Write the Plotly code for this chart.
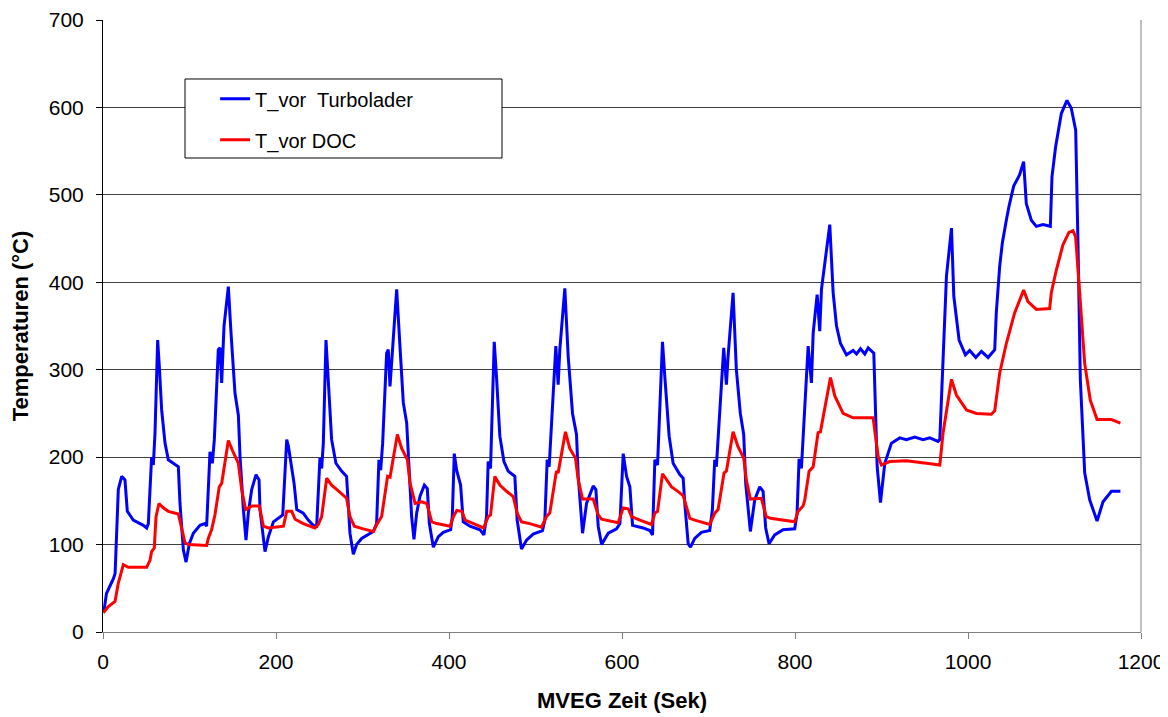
import plotly.graph_objects as go

# ---- data ----
t_turbo = [
    1, 4, 12, 14, 17.7, 21.6, 25.4, 28.1, 35, 46.6,
    50.5, 52.4, 56.2, 58.2, 60.1, 63.2, 65.1, 67.8, 71.7, 75.5,
    81.3, 87.1, 89, 92.9, 96, 99.8, 104.4, 112.1, 117.9, 119.8,
    123.7, 126.4, 128.7, 133.3, 135.3, 137.2, 139.9, 144.9, 148, 152.6,
    156.5, 158.4, 162.3, 165.3, 168, 171.9, 176.9, 180.4, 181.5, 187.3,
    191.2, 197, 207.8, 212.4, 214.4, 218.2, 220.9, 224, 231.5, 237.3,
    243.1, 247, 250.8, 252.8, 254.7, 257.8, 260.4, 264.3, 269.3, 275.8,
    281.6, 285.5, 289.4, 293.2, 299, 306.7, 312.5, 316.3, 319, 321,
    323.3, 327.9, 329.8, 331.8, 333.7, 339.5, 343.3, 347.2, 351.1, 354.1,
    356.8, 359.5, 362.6, 366.4, 371.5, 374.9, 377.3, 381.9, 387.7, 393.4,
    401.9, 403.8, 406.1, 408.8, 413.4, 416.5, 424.2, 435.8, 440.3, 443.4,
    445.3, 448, 452.3, 454.9, 458.8, 463.5, 468.4, 476.1, 478.8, 483.8,
    489.6, 497.3, 508.1, 510.8, 513.5, 515.8, 518.5, 523.5, 526.2, 528.1,
    533.9, 537.8, 542.8, 547.4, 549.4, 554.4, 559, 566.7, 569.8, 572.5,
    576.4, 584.1, 593.7, 597.6, 601.4, 605.3, 609.1, 612.2, 624.5, 632.2,
    635.3, 638, 641.1, 646.8, 649.5, 654.5, 659.1, 666.8, 670.7, 672.6,
    676.5, 679.2, 684.1, 691.8, 701.4, 704.5, 707.2, 709.1, 712.2, 717.6,
    720.7, 722.6, 728.4, 732.2, 736.8, 740.7, 743, 748.4, 753.4, 759.2,
    763.1, 766.1, 770, 776.5, 786.2, 799.7, 802.4, 804.7, 807.4, 811.3,
    815.2, 819, 821, 825.6, 828.6, 830.6, 835.6, 840.2, 844.1, 848,
    852.6, 859.5, 867.2, 871.1, 875.7, 880.7, 884.6, 891.1, 895, 898.8,
    903.8, 911.5, 921.1, 928.8, 938.4, 948.1, 955.8, 965.4, 967.4, 970.5,
    975.1, 980.9, 983.6, 989.7, 997, 1002, 1009, 1015.5, 1023.2, 1030.9,
    1032.7, 1036.6, 1039.7, 1044.3, 1047.4, 1052.8, 1059.7, 1064.3, 1067.4, 1073.2,
    1079, 1086.7, 1095.2, 1097.1, 1101.3, 1107.9, 1114.4, 1119.4, 1124.5, 1127.2,
    1129.9, 1134.9, 1140.7, 1149.2, 1156.1, 1165.8, 1176.2,
]
T_turbo = [
    23, 44, 61, 67, 163, 178, 174, 138, 128, 122,
    119, 124, 200, 191, 227, 334, 304, 254, 216, 197,
    193, 189, 147, 94, 80, 101, 113, 122, 124, 121,
    206, 193, 220, 323, 325, 285, 350, 395, 342, 273,
    248, 201, 140, 105, 136, 163, 180, 174, 140, 92,
    109, 126, 134, 220, 212, 185, 170, 140, 136, 128,
    122, 121, 199, 187, 216, 334, 288, 220, 193, 184,
    178, 113, 89, 100, 107, 112, 115, 124, 197, 185,
    216, 319, 323, 281, 311, 392, 327, 262, 239, 189,
    132, 106, 136, 155, 168, 164, 124, 97, 109, 114,
    117, 132, 204, 185, 168, 126, 121, 117, 111, 132,
    195, 187, 332, 292, 224, 195, 184, 178, 128, 95,
    105, 112, 116, 128, 197, 189, 239, 327, 283, 323,
    393, 315, 250, 226, 178, 113, 147, 167, 163, 121,
    100, 113, 118, 124, 204, 178, 166, 122, 119, 116,
    111, 197, 191, 332, 292, 224, 193, 180, 176, 147,
    101, 97, 107, 114, 116, 140, 197, 189, 239, 325,
    283, 315, 388, 300, 250, 226, 170, 115, 151, 166,
    161, 119, 101, 111, 117, 118, 136, 198, 187, 258,
    327, 285, 342, 386, 344, 392, 430, 466, 388, 350,
    330, 317, 322, 318, 324, 318, 325, 319, 189, 148,
    193, 216, 222, 220, 223, 220, 222, 218, 220, 304,
    407, 462, 384, 334, 317, 322, 314, 321, 314, 323,
    365, 418, 445, 471, 487, 510, 523, 538, 490, 471,
    464, 466, 464, 521, 555, 593, 608, 599, 574, 441,
    288, 182, 151, 127, 149, 161, 161,
]

t_doc = [
    0.4, 6.2, 13.9, 17.7, 23.5, 29.3, 50.5, 54.3, 56.2, 59.3,
    61.3, 64.7, 69.7, 75.5, 87.1, 94.8, 98.7, 119.8, 121.7, 125.5,
    129.4, 134.4, 137.2, 144.9, 149.9, 156.5, 160.3, 164.9, 171.9, 180.8,
    185.4, 191.2, 208.6, 212.4, 218.2, 222.1, 231.5, 245, 248.9, 252.8,
    258.6, 264.3, 270.1, 281.6, 285.5, 290.5, 300.9, 312.5, 317.1, 322.1,
    329, 331.8, 340.3, 345.3, 351.9, 355, 360.8, 368.5, 374.3, 380.1,
    385.9, 401.3, 405.1, 409, 414.8, 418.7, 428.3, 439.9, 445.3, 448,
    453, 458.8, 466.5, 474.2, 478.8, 483.8, 493.4, 506.9, 512.7, 516.5,
    524.2, 526.2, 534.6, 539.6, 546.2, 549.4, 554.4, 566.7, 572.5, 576.4,
    595.6, 599.5, 601.4, 607.2, 611, 620.7, 634.1, 638, 641.1, 646.8,
    651.5, 657.3, 663, 670.7, 678.4, 684.1, 701.4, 707.2, 711.1, 718,
    720.7, 728.4, 734.1, 740.7, 743.7, 748.4, 761, 766.8, 771.8, 799.7,
    803.5, 809.3, 811.3, 816.3, 821, 826.7, 829.4, 841, 846, 855.6,
    867.2, 890.3, 896.1, 899.9, 909.5, 928.8, 951.9, 967.4, 971.2, 980.9,
    986.6, 998.2, 1009.7, 1027, 1030.9, 1036.6, 1044.3, 1053.9, 1064.3, 1069.3,
    1079, 1094.4, 1096.3, 1102.1, 1109.8, 1116.7, 1121.4, 1124.4, 1129.1, 1134.9,
    1141.4, 1149.2, 1156.1, 1165.8, 1176.2,
]
T_doc = [
    22, 29, 35, 56, 77, 74, 74, 82, 92, 96,
    132, 147, 142, 138, 135, 102, 100, 99, 107, 117,
    134, 166, 170, 219, 207, 193, 163, 140, 144, 144,
    121, 119, 121, 138, 138, 129, 124, 119, 123, 132,
    176, 168, 163, 153, 132, 121, 118, 115, 124, 132,
    178, 177, 226, 210, 197, 170, 147, 149, 147, 126,
    124, 121, 132, 139, 138, 128, 124, 119, 132, 134,
    178, 168, 161, 155, 136, 126, 124, 120, 132, 136,
    184, 182, 229, 210, 199, 174, 152, 152, 134, 129,
    125, 136, 142, 141, 132, 128, 123, 136, 138, 181,
    174, 166, 162, 156, 130, 128, 123, 136, 140, 182,
    184, 229, 212, 199, 174, 152, 153, 132, 130, 126,
    138, 144, 151, 184, 189, 228, 229, 291, 270, 250,
    245, 245, 201, 191, 195, 196, 193, 191, 228, 289,
    271, 254, 250, 249, 253, 296, 330, 365, 391, 378,
    369, 370, 388, 414, 443, 457, 459, 452, 388, 307,
    265, 243, 243, 243, 239,
]

series_names = ["T_vor\u00a0 Turbolader", "T_vor DOC"]
x_ticks = [0, 200, 400, 600, 800, 1000, 1200]
y_ticks = [0, 100, 200, 300, 400, 500, 600, 700]

FONT = "Liberation Sans, Arial, sans-serif"

fig = go.Figure()
fig.add_trace(go.Scatter(x=t_turbo, y=T_turbo, mode="lines", name=series_names[0],
                         legendgroup="a", line=dict(color="#0000ff", width=3)))
fig.add_trace(go.Scatter(x=t_doc, y=T_doc, mode="lines", name=series_names[1],
                         legendgroup="b", line=dict(color="#ff0000", width=3)))

# legend frame (opaque white box like the original)
fig.add_shape(type="rect", xref="paper", yref="paper",
              x0=0.079, x1=0.3844, y0=0.7745, y1=0.9036,
              fillcolor="white", line=dict(color="black", width=1), layer="above")

# right border of the plot frame
fig.add_shape(type="line", xref="paper", yref="paper", x0=1, x1=1, y0=0, y1=1,
              line=dict(color="#808080", width=1))

fig.update_layout(
    width=1160, height=709,
    margin=dict(l=95, r=27, t=12, b=85),
    paper_bgcolor="white", plot_bgcolor="white",
    font=dict(family=FONT, size=21, color="black"),
    showlegend=True,
    legend=dict(x=0.108, y=0.903, xanchor="left", yanchor="top",
                bgcolor="rgba(0,0,0,0)", borderwidth=0,
                font=dict(family=FONT, size=20, color="black"),
                tracegroupgap=12, traceorder="grouped", itemwidth=30),
    xaxis=dict(range=[0, 1200], tickvals=x_ticks, ticktext=[str(v) for v in x_ticks],
               automargin=False,
               showgrid=False, zeroline=False, showline=True, linecolor="#808080",
               linewidth=1, ticks="outside", ticklen=6, tickcolor="#808080",
               tickfont=dict(size=21), ticklabelstandoff=5,
               title=dict(text="<b>MVEG Zeit (Sek)</b>", font=dict(size=22), standoff=20)),
    yaxis=dict(range=[0, 700], tickvals=y_ticks, ticktext=[str(v) for v in y_ticks],
               automargin=False,
               showgrid=True, gridcolor="#404040", gridwidth=1, zeroline=False,
               showline=True, linecolor="black", linewidth=1,
               ticks="outside", ticklen=6, tickcolor="black",
               tickfont=dict(size=21), ticklabelstandoff=8,
               title=dict(text="<b>Temperaturen (°C)</b>", font=dict(size=22), standoff=14)),
)

fig.write_html("out.html")
